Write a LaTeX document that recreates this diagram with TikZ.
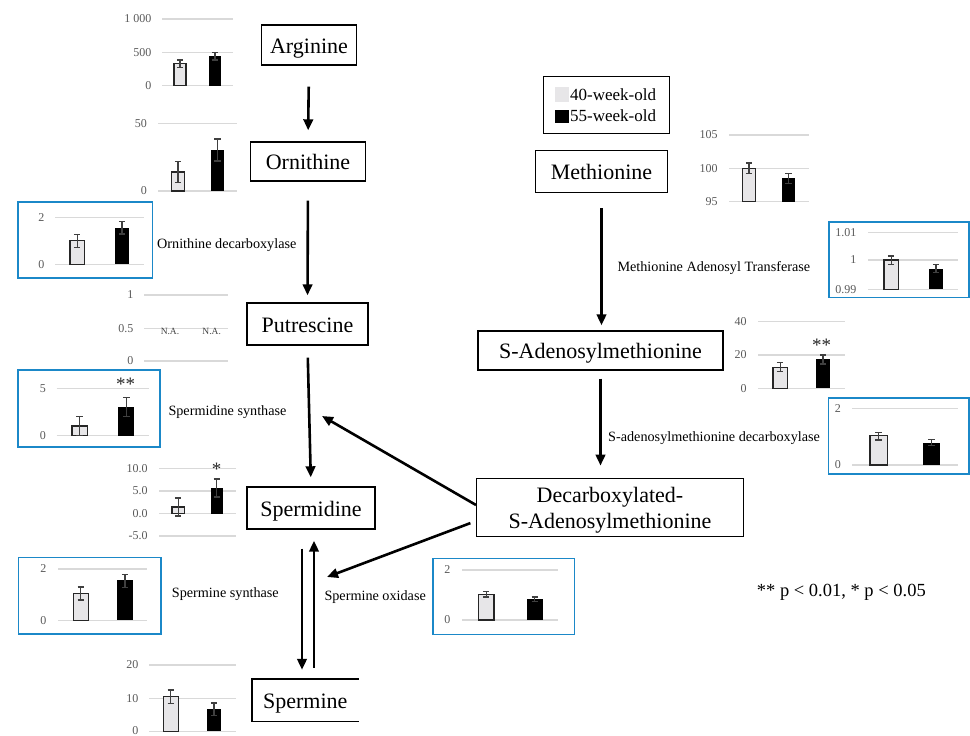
\documentclass[tikz,border=0pt]{standalone}
\usepackage{fontspec}
\setmainfont{Liberation Serif}
\usetikzlibrary{arrows.meta,calc}
\definecolor{lgray}{HTML}{E7E6E8}
\definecolor{gridc}{HTML}{D9D9D9}
\definecolor{labc}{HTML}{595959}
\definecolor{errc}{HTML}{404040}
\definecolor{boxblue}{HTML}{1B88C8}
\newcommand{\cgrid}[3]{\draw[gridline] (#1,#3) -- (#2,#3);}
\newcommand{\cerr}[3]{\draw[errline] ({#1},#2) -- ({#1},#3) ({#1-3.2},#2) -- ({#1+3.2},#2) ({#1-3.2},#3) -- ({#1+3.2},#3);}
\newcommand{\cbarL}[6]{\filldraw[lbar] (#1,#4) rectangle (#2,#3); \cerr{(#1+#2)/2}{#5}{#6}}
\newcommand{\cbarD}[6]{\fill[dbar] (#1,#4) rectangle (#2,#3); \cerr{(#1+#2)/2}{#5}{#6}}
\newcommand{\cylab}[4]{\node[ylab,anchor=east] (#1) at (#2,#3) {#4};}
\begin{document}
\begin{tikzpicture}[x=1pt,y=-1pt,
  pathtext/.style={inner sep=0pt,font=\fontsize{22}{25.6}\selectfont,text height=16.5pt,text depth=0.5pt},
  pathnode/.style={pathtext,draw=black,line width=1.4pt},
  gridline/.style={draw=gridc,line width=1.2pt},
  lbar/.style={fill=lgray,draw=black!85,line width=1.3pt},
  dbar/.style={fill=black},
  errline/.style={draw=errc,line width=1.1pt},
  ylab/.style={font=\fontsize{12}{12}\selectfont,text=labc,inner sep=0pt},
  enz/.style={font=\fontsize{14.2}{16}\selectfont,inner sep=0pt,anchor=base west},
  sig/.style={font=\fontsize{19}{19}\selectfont,text=black!85,inner sep=0pt},
  bluebox/.style={draw=boxblue,line width=1.6pt},
  arr/.style={line width=2.6pt,-{Triangle[length=11pt,width=9.5pt]}},
  na/.style={font=\fontsize{9.5}{9.5}\selectfont,text=errc,inner sep=0pt}
]
\useasboundingbox (0,0) rectangle (970,736);

% ---------- pathway nodes ----------
\node[pathnode,minimum width=95,minimum height=40] (arg) at (309,45) {Arginine};
\node[pathnode,minimum width=115,minimum height=39] (orn) at (308,161.5) {Ornithine};
\node[pathnode,minimum width=121,minimum height=42] (put) at (307.5,324) {Putrescine};
\node[pathnode,minimum width=128,minimum height=42] (spd) at (311,508) {Spermidine};
\node[pathtext,minimum width=106,minimum height=42] (spm) at (305.3,700) {Spermine};
\draw[line width=1.4pt] (spm.north east) -- (spm.north west) -- (spm.south west) -- (spm.south east);
\node[pathnode,minimum width=131.6,minimum height=41.6] (met) at (601.5,171.5) {Methionine};
\node[pathnode,minimum width=245,minimum height=39] (sam) at (600.5,350.5) {S-Adenosylmethionine};
\node[draw=black,line width=1.4pt,inner sep=0pt,minimum width=266.6,minimum height=58.4] (dec) at (610,507.5) {};
\node[inner sep=0pt,font=\fontsize{22}{25.6}\selectfont,anchor=base] (dec1) at (610,502.7) {Decarboxylated-};
\node[inner sep=0pt,font=\fontsize{22}{25.6}\selectfont,anchor=base] (dec2) at (610,528.3) {S-Adenosylmethionine};

% ---------- legend ----------
\node[draw=black,line width=1.4pt,minimum width=126,minimum height=56.6,inner sep=0pt] (leg) at (606.3,105) {};
\fill[lgray] (555,87.3) rectangle (569.3,102.3);
\fill[black] (555,109.5) rectangle (569.3,123);
\node[font=\fontsize{17}{17}\selectfont,inner sep=0pt,anchor=base west] (leg40) at (570,100.7) {40-week-old};
\node[font=\fontsize{17}{17}\selectfont,inner sep=0pt,anchor=base west] (leg55) at (570,121.7) {55-week-old};

% ---------- arrows ----------
\draw[arr,shorten <=21pt,shorten >=11pt] (arg.south) -- (orn.north);
\draw[arr,shorten <=19pt,shorten >=7pt] (orn.south) -- (put.north);
\draw[arr,shorten <=12pt,shorten >=9pt] (put.south) -- (spd.north);
\draw[arr,shorten <=19pt,shorten >=9pt] ([xshift=-9pt]spd.south) -- ([xshift=-9pt]spd.south |- spm.north);
\draw[arr,shorten <=11pt,shorten >=11pt] ([xshift=3pt]spd.south |- spm.north) -- ([xshift=3pt]spd.south);
\draw[arr,shorten <=15pt,shorten >=5pt] (met.south) -- (met.south |- sam.north);
\draw[arr,shorten <=8pt,shorten >=12pt] (sam.south) -- (sam.south |- dec.north);
\coordinate (tipA) at (322,416);
\coordinate (tipB) at (327,577);
\draw[arr] ([yshift=2.5pt]dec.west) -- (tipA);
\draw[arr,shorten <=6pt] ([yshift=-13.5pt]dec.west) -- (tipB);

% ---------- enzyme labels ----------
\node[enz] (odc) at (157,248.3) {Ornithine decarboxylase};
\node[enz] (spds) at (168.3,415.7) {Spermidine synthase};
\node[enz] (spms) at (171.7,597.3) {Spermine synthase};
\node[enz] (smox) at (324.3,600) {Spermine oxidase};
\node[enz] (mat) at (617.3,271.7) {Methionine Adenosyl Transferase};
\node[enz] (samdc) at (608,441.7) {S-adenosylmethionine decarboxylase};
\node[font=\fontsize{18.5}{19}\selectfont,inner sep=0pt,anchor=base west] (pval) at (756.7,596.7) {** p {\char`<} 0.01, * p {\char`<} 0.05};

% ---------- chart: Arginine ----------
\cgrid{162}{233}{19} \cgrid{162}{233}{52.3} \cgrid{162}{233}{85.7}
\cylab{a1}{151.5}{19}{1 000} \cylab{a2}{151.5}{52.3}{500} \cylab{a3}{151.5}{85.7}{0}
\cbarL{174}{186}{63.3}{85.7}{60}{67.3}
\cbarD{208.7}{221.3}{55.7}{85.7}{52.3}{60}

% ---------- chart: Ornithine ----------
\cgrid{158}{237}{123.7} \cgrid{158}{237}{191}
\cylab{b1}{147}{123.7}{50} \cylab{b2}{147}{191}{0}
\cbarL{171.7}{184.3}{172}{191}{161.3}{182.7}
\cbarD{210.7}{224}{150}{191}{139}{161}

% ---------- chart: ODC ----------
\draw[bluebox] (18,201.7) rectangle (152.3,277.7);
\cgrid{55}{144}{217.7} \cgrid{55}{144}{264.3}
\cylab{c1}{44.5}{217.7}{2} \cylab{c2}{44.5}{264.3}{0}
\cbarL{70}{84.3}{240.3}{264.3}{234.3}{247.3}
\cbarD{114.7}{129.3}{227.7}{264.3}{221.7}{234}

% ---------- chart: Putrescine ----------
\cgrid{144}{227.7}{295} \cgrid{144}{227.7}{328.3} \cgrid{144}{227.7}{361}
\cylab{d1}{133.5}{295}{1} \cylab{d2}{133.5}{328.3}{0.5} \cylab{d3}{133.5}{361}{0}
\node[na] (na1) at (170,331.5) {N.A.};
\node[na] (na2) at (211.7,331.5) {N.A.};

% ---------- chart: Spermidine synthase ----------
\draw[bluebox] (17.7,370) rectangle (160,446.7);
\cgrid{56.7}{149}{388.3} \cgrid{56.7}{149}{435.7}
\cylab{e1}{46}{388.3}{5} \cylab{e2}{46}{435.7}{0}
\cbarL{72}{87.3}{426}{435.7}{416.7}{435.7}
\cbarD{118.3}{134.3}{407.3}{435.7}{397.7}{416.7}
\node[sig] (sig1) at (125.7,384) {**};

% ---------- chart: Spermidine ----------
\cgrid{159.3}{236}{468.5} \cgrid{159.3}{236}{491} \cgrid{159.3}{236}{513.5} \cgrid{159.3}{236}{536}
\cylab{f1}{147.7}{468.5}{10.0} \cylab{f2}{147.7}{491}{5.0} \cylab{f3}{147.7}{513.5}{0.0} \cylab{f4}{147.7}{536}{-5.0}
\cbarL{172}{184.3}{507}{513.5}{498}{516}
\cbarD{210.7}{223}{487.5}{513.5}{479}{497}
\node[sig] (sig2) at (216.7,469.7) {*};

% ---------- chart: Spermine synthase ----------
\draw[bluebox] (18.3,557.3) rectangle (160.7,634);
\cgrid{58.3}{146.7}{569} \cgrid{58.3}{146.7}{620.3}
\cylab{g1}{46.5}{569}{2} \cylab{g2}{46.5}{620.3}{0}
\cbarL{73.3}{88.3}{593.3}{620.3}{587}{600}
\cbarD{117.3}{132.7}{580.3}{620.3}{574.3}{587.3}

% ---------- chart: Spermine ----------
\cgrid{149.3}{236}{665} \cgrid{149.3}{236}{698.3} \cgrid{149.3}{236}{731.2}
\cylab{h1}{138.5}{665}{20} \cylab{h2}{138.5}{698.3}{10} \cylab{h3}{138.5}{730.8}{0}
\cbarL{163.3}{178.3}{696.3}{731.2}{690}{703.3}
\cbarD{206.7}{221.3}{709}{731.2}{703}{715.7}

% ---------- chart: Methionine ----------
\cgrid{729}{809.3}{135} \cgrid{729}{809.3}{168.3} \cgrid{729}{809.3}{201.7}
\cylab{i1}{717.7}{135}{105} \cylab{i2}{717.7}{168.3}{100} \cylab{i3}{717.7}{201.7}{95}
\cbarL{742.3}{755.7}{168.3}{201.7}{163}{173.3}
\cbarD{781.7}{795.3}{177.7}{201.7}{173.3}{183.3}

% ---------- chart: MAT ----------
\draw[bluebox] (829,221.7) rectangle (969.2,297.3);
\cgrid{868.3}{958.3}{232.7} \cgrid{868.3}{958.3}{260} \cgrid{868.3}{958.3}{289.3}
\cylab{j1}{856.5}{232.7}{1.01} \cylab{j2}{856.5}{260}{1} \cylab{j3}{856.5}{289.3}{0.99}
\cbarL{884}{898.3}{260}{289.3}{256}{264.7}
\cbarD{928.7}{943.3}{268.7}{289.3}{264.7}{272.3}

% ---------- chart: SAM ----------
\cgrid{758.3}{845}{321.7} \cgrid{758.3}{845}{355} \cgrid{758.3}{845}{388.3}
\cylab{k1}{746.7}{321.7}{40} \cylab{k2}{746.7}{355}{20} \cylab{k3}{746.7}{388.3}{0}
\cbarL{773}{787.3}{367.3}{388.3}{362.7}{371.7}
\cbarD{815.7}{830.3}{359.3}{388.3}{355}{364}
\node[sig] (sig3) at (821.7,345.3) {**};

% ---------- chart: SAMDC ----------
\draw[bluebox] (828.3,397.7) rectangle (969.2,474);
\cgrid{852.3}{958.3}{408.3} \cgrid{852.3}{958.3}{465}
\cylab{l1}{841}{408.3}{2} \cylab{l2}{841}{465}{0}
\cbarL{870}{887.3}{435.7}{465}{432.3}{440}
\cbarD{923.3}{940}{442.7}{465}{439.3}{445.7}

% ---------- chart: SMOX ----------
\draw[bluebox] (432.7,558.3) rectangle (574.3,634.3);
\cgrid{462.3}{558.3}{570} \cgrid{462.3}{558.3}{620}
\cylab{m1}{450.5}{570}{2} \cylab{m2}{450.5}{620}{0}
\cbarL{478.3}{494}{594.3}{620}{591.7}{597}
\cbarD{526.7}{542.7}{599}{620}{597}{601.7}
\end{tikzpicture}
\end{document}
